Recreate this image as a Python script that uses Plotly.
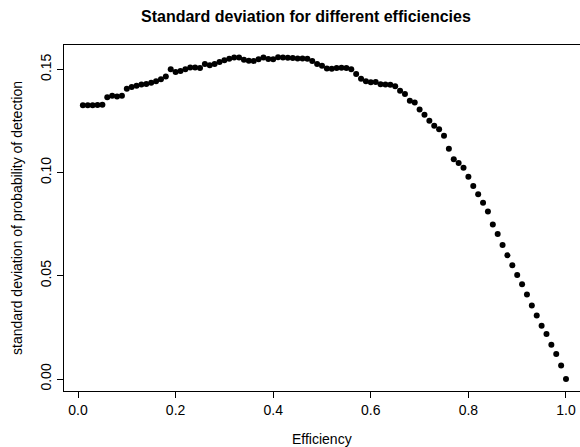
import plotly.graph_objects as go

efficiency = [
    0.01, 0.02, 0.03, 0.04, 0.05, 0.06, 0.07, 0.08, 0.09, 0.10,
    0.11, 0.12, 0.13, 0.14, 0.15, 0.16, 0.17, 0.18, 0.19, 0.20,
    0.21, 0.22, 0.23, 0.24, 0.25, 0.26, 0.27, 0.28, 0.29, 0.30,
    0.31, 0.32, 0.33, 0.34, 0.35, 0.36, 0.37, 0.38, 0.39, 0.40,
    0.41, 0.42, 0.43, 0.44, 0.45, 0.46, 0.47, 0.48, 0.49, 0.50,
    0.51, 0.52, 0.53, 0.54, 0.55, 0.56, 0.57, 0.58, 0.59, 0.60,
    0.61, 0.62, 0.63, 0.64, 0.65, 0.66, 0.67, 0.68, 0.69, 0.70,
    0.71, 0.72, 0.73, 0.74, 0.75, 0.76, 0.77, 0.78, 0.79, 0.80,
    0.81, 0.82, 0.83, 0.84, 0.85, 0.86, 0.87, 0.88, 0.89, 0.90,
    0.91, 0.92, 0.93, 0.94, 0.95, 0.96, 0.97, 0.98, 0.99, 1.00,
]

std_dev = [
    0.1326, 0.1326, 0.1326, 0.1327, 0.1328, 0.1365, 0.1372, 0.1368, 0.1372, 0.1406,
    0.1415, 0.1421, 0.1427, 0.1429, 0.1435, 0.1442, 0.1452, 0.1466, 0.1501, 0.1487,
    0.1492, 0.1501, 0.1509, 0.1509, 0.1506, 0.1526, 0.1520, 0.1526, 0.1536, 0.1544,
    0.1552, 0.1557, 0.1558, 0.1546, 0.1542, 0.1541, 0.1549, 0.1557, 0.1550, 0.1549,
    0.1559, 0.1558, 0.1556, 0.1555, 0.1553, 0.1553, 0.1551, 0.1540, 0.1526, 0.1518,
    0.1504, 0.1503, 0.1507, 0.1508, 0.1506, 0.1500, 0.1478, 0.1454, 0.1442, 0.1438,
    0.1439, 0.1428, 0.1427, 0.1426, 0.1418, 0.1396, 0.1381, 0.1348, 0.1339, 0.1305,
    0.1280, 0.1251, 0.1227, 0.1210, 0.1179, 0.1115, 0.1065, 0.1046, 0.1024, 0.0980,
    0.0935, 0.0895, 0.0854, 0.0811, 0.0749, 0.0702, 0.0649, 0.0599, 0.0551, 0.0504,
    0.0459, 0.0410, 0.0356, 0.0308, 0.0258, 0.0218, 0.0166, 0.0121, 0.0066, 0.0000,
]

x_ticks = [0.0, 0.2, 0.4, 0.6, 0.8, 1.0]
x_tick_labels = ["0.0", "0.2", "0.4", "0.6", "0.8", "1.0"]
y_ticks = [0.00, 0.05, 0.10, 0.15]
y_tick_labels = ["0.00", "0.05", "0.10", "0.15"]

title_text = "<b>Standard deviation for different efficiencies</b>"
x_title = "Efficiency"
y_title = "standard deviation of probability of detection"

W, H = 580, 447
L, R, T, B = 64, 580, 45, 391
FONT = "Liberation Sans, Arial, Helvetica, sans-serif"

fig = go.Figure()
fig.add_trace(go.Scatter(
    x=efficiency, y=std_dev, mode="markers",
    marker=dict(color="black", size=6, line=dict(width=0)),
    showlegend=False, hoverinfo="x+y",
))

fig.update_layout(
    width=W, height=H,
    margin=dict(l=L, r=W - R, t=T, b=H - B, pad=0),
    paper_bgcolor="white", plot_bgcolor="white",
    font=dict(family=FONT, size=14, color="black"),
    xaxis=dict(
        range=[-0.0287, 1.0287], tickvals=x_ticks, ticktext=x_tick_labels,
        ticks="outside", ticklen=6, tickwidth=1, tickcolor="black",
        showline=True, linecolor="black", linewidth=1, mirror=True,
        showgrid=False, zeroline=False, tickfont=dict(size=14),
    ),
    yaxis=dict(
        range=[-0.0058, 0.1618], tickvals=y_ticks, ticktext=y_tick_labels,
        ticks="outside", ticklen=6, tickwidth=1, tickcolor="black",
        tickangle=-90,
        showline=True, linecolor="black", linewidth=1, mirror=False,
        showgrid=False, zeroline=False, tickfont=dict(size=14),
    ),
    annotations=[
        dict(text=title_text, xref="paper", yref="paper",
             x=(306 - L) / (R - L), y=(B - 17) / (B - T),
             xanchor="center", yanchor="middle", showarrow=False,
             font=dict(size=16, family=FONT)),
        dict(text=x_title, xref="paper", yref="paper",
             x=(322 - L) / (R - L), y=(B - 439) / (B - T),
             xanchor="center", yanchor="middle", showarrow=False,
             font=dict(size=14, family=FONT)),
        dict(text=y_title, xref="paper", yref="paper",
             x=(17 - L) / (R - L), y=0.5, textangle=-90,
             xanchor="center", yanchor="middle", showarrow=False,
             font=dict(size=14, family=FONT)),
    ],
)

fig.write_html(
    "out.html",
    config={"displayModeBar": False},
    post_script="document.body.style.margin='0';document.body.style.padding='0';",
)
